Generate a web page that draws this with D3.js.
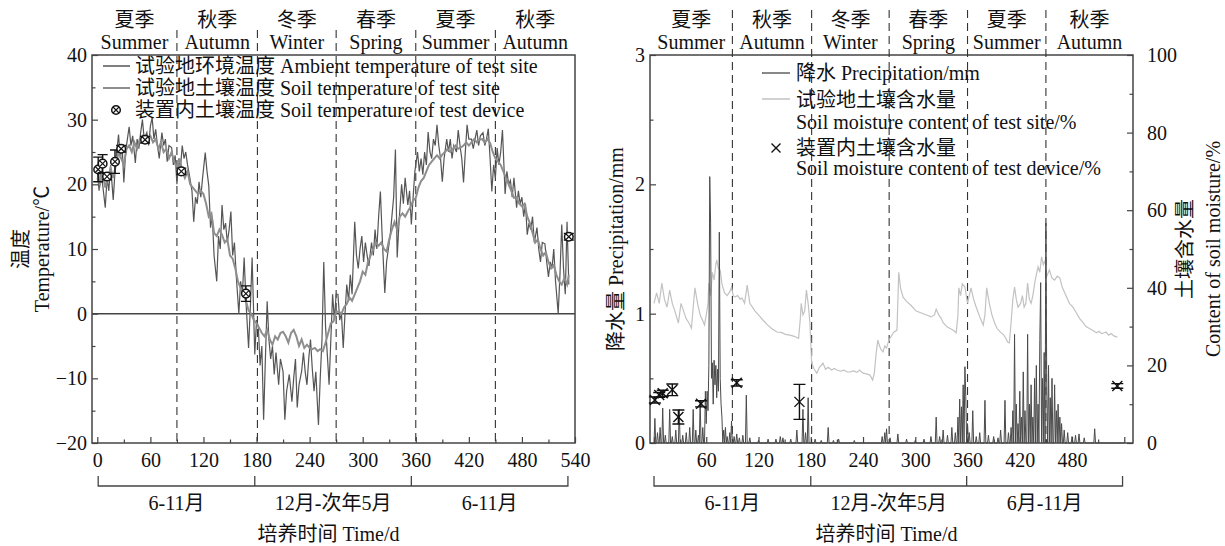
<!DOCTYPE html>
<html>
<head>
<meta charset="utf-8">
<script src="https://cdn.jsdelivr.net/npm/d3@7"></script>
<style>
    body { margin: 0; background: #fff; }
    svg { font-family: "Liberation Serif", "Times New Roman", "Noto Sans CJK SC", serif; font-size: 20px; }
    svg text { fill: #111; }
</style>
</head>
<body>
<script>
// ---- left panel: temperature ----
var ambientDays = [0, 2, 4, 6, 9, 11, 13, 15, 18, 20, 22, 24, 26, 28, 30, 32, 34, 36, 38, 40, 43, 45, 47, 49, 51, 53, 56, 58, 60, 62, 64, 66, 68, 70, 73, 75, 77, 79, 81, 84, 86, 88, 90, 92, 94, 96, 98, 100, 102, 104, 107, 109, 111, 113, 115, 117, 119, 122, 124, 126, 128, 130, 132, 135, 137, 139, 141, 143, 145, 147, 149, 151, 153, 155, 157, 160, 162, 164, 166, 168, 171, 173, 175, 178, 180, 182, 184, 186, 188, 190, 192, 194, 196, 198, 200, 202, 205, 207, 210, 212, 214, 217, 220, 222, 224, 226, 228, 231, 233, 235, 237, 239, 241, 243, 245, 247, 250, 252, 254, 256, 258, 260, 262, 264, 266, 268, 270, 272, 274, 276, 278, 280, 282, 284, 286, 288, 291, 293, 295, 297, 299, 301, 303, 305, 307, 310, 312, 314, 316, 318, 320, 322, 325, 327, 329, 331, 333, 335, 337, 339, 341, 344, 346, 348, 351, 353, 355, 357, 359, 362, 364, 366, 368, 370, 372, 374, 376, 378, 380, 382, 384, 386, 388, 390, 392, 395, 397, 399, 401, 403, 406, 408, 410, 412, 414, 416, 418, 420, 423, 425, 427, 429, 431, 433, 436, 438, 440, 442, 444, 446, 448, 450, 452, 454, 456, 458, 461, 463, 465, 467, 469, 471, 474, 476, 478, 480, 482, 484, 486, 488, 490, 492, 494, 497, 499, 501, 503, 506, 508, 510, 512, 514, 516, 518, 521, 523, 525, 527, 529, 531, 533];
var ambientTemp = [22, 19, 23, 20, 16.4, 21, 19, 23, 17.6, 22, 25, 27.7, 24, 26, 20.3, 25, 27, 28.9, 26, 27.5, 23.3, 27, 25.5, 28, 30, 27, 28, 26, 29, 30.3, 27, 28.5, 26, 24, 28, 26, 27, 23.5, 26, 25.7, 23, 24.5, 20, 24, 22.5, 26, 24, 25, 23, 21.5, 19, 14.2, 18, 17, 20.4, 18, 21, 24.9, 22, 19.8, 13.3, 15, 9, 5, 12, 10, 16.8, 13, 14, 11, 13, 15.8, 9, 11, 6, 0, 5, 3, 8.7, 2, -5.3, 1, 8.7, -6.3, -1, -2, -8, -5, -16.4, -7, 1.9, -4, -7, -5, -9.4, -6, -11, -7, -9, -16.4, -12, -9.4, -13.6, -10, -7, -14.5, -11, -8.9, -6, -9, -11, -7, -4, -8.5, -12, -9, -17.2, -10, -4, 8, -2, -6.3, -11, -4, 3, -1, 3, 3, -1, 0, -5.3, 0, 4.5, 2, 6, 3, 14.2, 9, 7, 10, 12, 8, 11, 9, 7.4, 11, 9, 13, 10, 15, 18.9, 12, 3.2, 8, 10, 12, 15, 18, 25.4, 8.7, 14, 20, 17, 21, 16.8, 19, 13.8, 18, 22, 25, 22, 24, 21.5, 25, 23, 28.1, 25, 24, 27, 26, 29.2, 26, 24, 20.4, 24, 27, 25, 27, 24, 26, 25, 28.4, 26, 24, 20.3, 25, 29.2, 27, 27, 25.5, 27, 28.4, 26, 27.5, 28, 26, 27, 28.6, 24, 18.9, 23, 21, 25.6, 23, 25, 28.4, 18.5, 22, 20, 20.6, 18, 21, 16.4, 19, 17, 18, 15, 17, 12.2, 14, 13, 15, 11, 13.3, 10, 8, 11, 10.8, 8, 5.7, 8, 7, 10, 5, 0, 6, 13.8, 7, 3, 14.2, 4.5];

var soilDays = [0, 3, 6, 9, 12, 15, 18, 21, 24, 27, 30, 33, 36, 39, 42, 45, 48, 51, 54, 57, 60, 63, 66, 69, 72, 75, 78, 81, 84, 87, 90, 93, 96, 99, 102, 105, 108, 111, 114, 117, 120, 123, 126, 129, 132, 135, 138, 141, 144, 147, 150, 153, 156, 159, 162, 165, 168, 171, 174, 177, 180, 183, 186, 189, 192, 195, 198, 201, 204, 207, 210, 213, 216, 219, 222, 225, 228, 231, 234, 237, 240, 243, 246, 249, 252, 255, 258, 261, 264, 267, 270, 273, 276, 279, 282, 285, 288, 291, 294, 297, 300, 303, 306, 309, 312, 315, 318, 321, 324, 327, 330, 333, 336, 339, 342, 345, 348, 351, 354, 357, 360, 363, 366, 369, 372, 375, 378, 381, 384, 387, 390, 393, 396, 399, 402, 405, 408, 411, 414, 417, 420, 423, 426, 429, 432, 435, 438, 441, 444, 447, 450, 453, 456, 459, 462, 465, 468, 471, 474, 477, 480, 483, 486, 489, 492, 495, 498, 501, 504, 507, 510, 513, 516, 519, 522, 525, 528, 531, 533];
var soilTemp = [21, 20, 22, 19.5, 21, 22.5, 21, 23, 25, 24, 23, 25.5, 26, 25, 26.5, 25.5, 27, 27.5, 26.5, 27, 27.5, 26.5, 27, 25.5, 26.5, 25, 25.5, 24, 25, 23.5, 22.5, 24, 22, 21, 22, 20, 19.5, 19, 18.5, 19, 18.5, 17, 15, 15.5, 12.5, 12, 13, 12.2, 11, 11.5, 9, 8.5, 7, 5, 4, 3, 2, 0.5, 0, -1, -1.5, -2.2, -3, -3.5, -2.5, -4, -4.8, -3.5, -4, -3, -2.8, -3.5, -4.5, -3, -2.5, -3.5, -5, -4, -5.3, -4.8, -5.3, -5.5, -5.3, -5.8, -5.5, -5.8, -4.5, -3, -1.5, -1.2, 0.3, 0.3, 0, 1, 1.5, 2.5, 2, 3, 4, 5, 6.5, 6, 8, 9, 10, 11, 10.5, 11, 10, 9.6, 11.5, 13, 14.2, 13, 15, 15.5, 15, 15.8, 16.5, 17.5, 17.9, 19.5, 20.5, 21, 22, 23, 23.5, 24, 24.5, 24, 24.6, 25, 25.5, 25, 25.5, 26, 25.5, 25.7, 26, 26.5, 26, 26.5, 27, 26.5, 26.9, 27, 26.5, 27, 26.4, 25, 24, 23.5, 23, 22, 21, 20, 19, 17.9, 18, 17, 16.6, 17, 15, 14, 12.5, 11, 11.5, 10, 9, 9.5, 8, 7, 7.5, 6, 5, 4.5, 5.5, 4.5, 6];

var deviceTempDays = [1, 6, 11, 20, 27, 54, 95, 168, 533];
var deviceTemp = [22.3, 23.2, 21.2, 23.5, 25.5, 26.9, 22.0, 3.1, 11.9];
var deviceTempErr = [1.9, 1.4, 0.5, 1.8, 0.5, 0.5, 0.5, 1.2, 0.5];

// ---- right panel: precipitation and soil moisture ----
var rainDays = [1, 4, 7, 10, 13, 18, 21, 25, 29, 33, 37, 41, 45, 48, 51, 53, 56, 59, 60, 61, 62, 63, 64, 65, 66, 67, 68, 69, 70, 71, 72, 73, 74, 75, 76, 77, 78, 80, 82, 84, 87, 89, 92, 95, 98, 102, 106, 110, 120, 131, 140, 145, 148, 157, 164, 171, 174, 177, 185, 192, 200, 206, 212, 230, 262, 265, 267, 271, 280, 290, 300, 310, 318, 324, 328, 332, 337, 342, 346, 349, 351, 353, 355, 357, 358, 360, 362, 366, 370, 374, 380, 384, 390, 395, 398, 403, 407, 410, 412, 414, 416, 418, 420, 422, 424, 426, 429, 431, 433, 435, 437, 439, 441, 443, 444, 446, 448, 450, 451, 453, 455, 457, 460, 462, 464, 466, 468, 471, 475, 480, 484, 488, 494, 506];
var rainVals = [0.19, 0.08, 0.12, 0.27, 0.06, 0.26, 0.05, 0.1, 0.26, 0.06, 0.08, 0.12, 0.26, 0.1, 0.06, 0.33, 0.12, 0.4, 0.15, 0.4, 0.25, 0.6, 2.06, 1.7, 0.5, 0.62, 0.3, 0.64, 0.45, 0.6, 0.35, 0.57, 0.4, 1.63, 0.5, 0.3, 0.2, 0.1, 0.12, 0.05, 0.08, 0.17, 0.05, 0.07, 0.04, 0.06, 0.37, 0.04, 0.02, 0.03, 0.03, 0.05, 0.04, 0.03, 0.1, 0.26, 0.08, 0.35, 0.03, 0.02, 0.12, 0.02, 0.03, 0.02, 0.05, 0.08, 0.11, 0.04, 0.07, 0.03, 0.02, 0.03, 0.05, 0.2, 0.05, 0.1, 0.06, 0.12, 0.08, 0.2, 0.34, 0.28, 0.45, 0.59, 0.36, 0.15, 0.08, 0.25, 0.05, 0.08, 0.33, 0.06, 0.05, 0.04, 0.1, 0.33, 0.08, 0.12, 0.25, 0.84, 0.3, 0.15, 0.4, 0.2, 0.55, 0.25, 0.84, 0.3, 0.45, 0.2, 0.5, 0.6, 0.3, 0.8, 1.24, 0.5, 0.7, 1.7, 0.4, 0.6, 0.35, 0.5, 0.45, 0.25, 0.3, 0.2, 0.15, 0.1, 0.08, 0.05, 0.06, 0.07, 0.04, 0.11];

var moistDays = [0, 3, 6, 9, 12, 15, 18, 21, 24, 28, 31, 34, 37, 40, 43, 45, 47, 50, 53, 56, 58, 60, 62, 63, 65, 67, 69, 71, 72, 74, 76, 78, 81, 84, 87, 89, 91, 93, 96, 99, 101, 104, 107, 110, 113, 116, 120, 125, 130, 135, 141, 146, 151, 156, 161, 166, 168, 169, 171, 173, 175, 177, 179, 181, 184, 187, 190, 194, 197, 200, 204, 207, 210, 214, 218, 222, 225, 229, 233, 236, 240, 244, 248, 251, 253, 255, 257, 259, 261, 263, 265, 267, 269, 271, 275, 279, 281, 283, 286, 290, 295, 301, 307, 313, 318, 322, 324, 327, 330, 332, 336, 340, 344, 347, 349, 350, 352, 354, 357, 360, 362, 364, 367, 370, 374, 378, 380, 382, 385, 388, 391, 394, 398, 401, 404, 406, 408, 410, 412, 414, 416, 418, 421, 423, 425, 427, 429, 431, 433, 435, 437, 439, 441, 443, 445, 447, 449, 451, 454, 457, 460, 463, 466, 469, 472, 475, 477, 481, 485, 489, 492, 496, 500, 504, 508, 511, 514, 517, 519, 522, 525, 528, 532];
var moistVals = [36, 38.7, 36, 41.2, 37, 35, 39.4, 36, 34, 30.9, 36, 34, 32, 31, 29.6, 35, 40, 36, 33, 31.5, 30.4, 33, 36, 41.2, 38, 44, 42, 46, 47.2, 45, 44.6, 41, 38.7, 38, 39, 40.2, 38, 37.6, 38, 37, 37.4, 36, 40.7, 36, 35, 34, 33, 31.7, 30.5, 29.5, 28.6, 28.5, 28, 27.8, 27.5, 27, 32, 36, 33, 34, 39.4, 36, 31, 20.6, 19, 18, 19.5, 20.6, 19, 19.5, 18.8, 19.2, 18.8, 18.5, 18.8, 18.3, 18.3, 18.6, 18.2, 18.8, 18, 17.8, 17.5, 16.2, 18, 23, 26.5, 25, 24, 23.5, 25, 24.5, 26, 27, 28.5, 29.1, 44, 40, 37.6, 36.5, 35.5, 34, 33.5, 33, 32.5, 33, 34.5, 33, 32, 31, 30, 29.5, 29, 28.4, 33, 40, 38, 41, 40.2, 36, 38, 40, 37, 35, 32.5, 30.4, 33, 40, 36, 33, 31, 29.5, 28.5, 28, 27, 26, 25.8, 31, 37, 40.2, 37, 35, 36, 38, 35, 36, 41.2, 37, 36, 38, 41, 43.4, 45.4, 44, 48, 46, 47, 43, 44.6, 42.5, 42, 43, 42.5, 40, 38.5, 37, 36, 35, 33.5, 32, 31.2, 30, 29.5, 29, 28.4, 28.8, 28.2, 28.4, 28.6, 27.8, 28.2, 27.6, 27.3];

var deviceMoistDays = [1, 6, 10, 21, 28, 54, 95, 167, 532];
var deviceMoist = [11.1, 12.4, 12.8, 13.7, 6.7, 10.1, 15.5, 10.6, 14.7];
var deviceMoistErr = [0.8, 0.6, 0.8, 1.5, 1.8, 0.8, 0.8, 4.5, 0.6];

// ---- shared labels ----
var seasonCn = ['夏季', '秋季', '冬季', '春季', '夏季', '秋季'];
var seasonEn = ['Summer', 'Autumn', 'Winter', 'Spring', 'Summer', 'Autumn'];
var seasonBounds = [90, 181, 270, 360, 450];
var leftBracketDays = [1, 178, 355, 532];
var leftBracketLabels = ['6-11月', '12月-次年5月', '6-11月'];
var rightBracketDays = [0, 180, 359, 538];
var rightBracketLabels = ['6-11月', '12月-次年5月', '6月-11月'];

var dayTicks = d3.range(0, 541, 60);
var dayMinorTicks = d3.range(30, 540, 60);
var tempTicks = [-20, -10, 0, 10, 20, 30, 40];
var tempMinorTicks = [-15, -5, 5, 15, 25, 35];
var rainTicks = [0, 1, 2, 3];
var rainMinorTicks = [0.5, 1.5, 2.5];
var moistTicks = [0, 20, 40, 60, 80, 100];
var moistMinorTicks = [10, 30, 50, 70, 90];

var width = 1225,
    height = 546,
    plotTop = 55,
    plotBottom = 443,
    ink = '#444';

var svg = d3.select('body')
    .append('svg')
    .attr('width', width)
    .attr('height', height);

var xL = d3.scaleLinear().domain([-6, 540]).range([92, 575]);
var yL = d3.scaleLinear().domain([-20, 40]).range([plotBottom, plotTop]);
var xR = d3.scaleLinear().domain([-4.6, 550]).range([650, 1133]);
var yP = d3.scaleLinear().domain([0, 3]).range([plotBottom, plotTop]);
var yM = d3.scaleLinear().domain([0, 100]).range([plotBottom, plotTop]);
var intFormat = d3.format('d');

//draw an axis without its domain line, letting the page font apply
var addAxis = function (axis, tx, ty) {
    var g = svg.append('g')
        .attr('transform', 'translate(' + tx + ',' + ty + ')')
        .call(axis)
        .attr('font-family', null)
        .attr('font-size', null);
    g.select('.domain').remove();
    g.selectAll('line').attr('stroke', ink).attr('stroke-width', 1.2);
    return g;
}

//ticks, minor ticks, box, season dashes and labels, brackets
var drawFrame = function (x, yTicks, yMinor, yScale, bracketDays, bracketLabels, labelDays, dashTop) {
    var x0 = x.range()[0], x1 = x.range()[1];
    addAxis(d3.axisBottom(x).tickValues(dayTicks).tickSize(-6).tickPadding(10)
        .tickFormat(function (d) { return labelDays.indexOf(d) >= 0 ? d : ''; }), 0, plotBottom);
    addAxis(d3.axisBottom(x).tickValues(dayMinorTicks).tickSize(-3.5).tickFormat(''), 0, plotBottom);
    addAxis(d3.axisLeft(yScale).tickValues(yTicks).tickSize(-6).tickPadding(5).tickFormat(intFormat), x0, 0);
    addAxis(d3.axisLeft(yScale).tickValues(yMinor).tickSize(-3.5).tickFormat(''), x0, 0);

    svg.append('rect')
        .attr('x', x0).attr('y', plotTop)
        .attr('width', x1 - x0).attr('height', plotBottom - plotTop)
        .style('fill', 'none').style('stroke', ink).style('stroke-width', 1.5);

    svg.append('g').selectAll('line')
        .data(seasonBounds).enter().append('line')
        .attr('x1', function (d) { return x(d); })
        .attr('x2', function (d) { return x(d); })
        .attr('y1', dashTop).attr('y2', plotBottom)
        .style('stroke', '#333').style('stroke-width', 1.1).style('stroke-dasharray', '8,5');

    var edges = [x0].concat(seasonBounds.map(x)).concat([x1]);
    var centers = seasonCn.map(function (d, i) { return (edges[i] + edges[i + 1]) / 2; });
    svg.append('g').selectAll('text')
        .data(seasonCn).enter().append('text')
        .attr('x', function (d, i) { return centers[i]; })
        .attr('y', 27).attr('text-anchor', 'middle').text(function (d) { return d; });
    svg.append('g').selectAll('text')
        .data(seasonEn).enter().append('text')
        .attr('x', function (d, i) { return centers[i]; })
        .attr('y', 49).attr('text-anchor', 'middle').text(function (d) { return d; });

    var bx = bracketDays.map(x);
    var p = 'M' + bx[0] + ',476V486H' + bx[3] + 'V476';
    p += 'M' + bx[1] + ',486V476M' + bx[2] + ',486V476';
    svg.append('path').attr('d', p)
        .style('fill', 'none').style('stroke', ink).style('stroke-width', 1.3);
    svg.append('g').selectAll('text')
        .data(bracketLabels).enter().append('text')
        .attr('x', function (d, i) { return (bx[i] + bx[i + 1]) / 2; })
        .attr('y', 510).attr('text-anchor', 'middle').text(function (d) { return d; });

    svg.append('text')
        .attr('x', (x0 + x1) / 2 - 5).attr('y', 541)
        .attr('text-anchor', 'middle').text('培养时间 Time/d');
}

//rotated axis title, reading upwards
var vText = function (x, y, s) {
    svg.append('text')
        .attr('transform', 'translate(' + x + ',' + y + ') rotate(-90)')
        .attr('text-anchor', 'middle').text(s);
}

// ================= left panel =================
drawFrame(xL, tempTicks, tempMinorTicks, yL, leftBracketDays, leftBracketLabels, dayTicks, 30);

//zero line
svg.append('line')
    .attr('x1', xL.range()[0]).attr('x2', xL.range()[1])
    .attr('y1', yL(0)).attr('y2', yL(0))
    .style('stroke', ink).style('stroke-width', 1.5);

var ambientColor = '#555', soilColor = '#8e8e8e';

svg.append('path')
    .datum(d3.zip(ambientDays, ambientTemp))
    .attr('d', d3.line().x(function (d) { return xL(d[0]); }).y(function (d) { return yL(d[1]); }))
    .style('fill', 'none').style('stroke', ambientColor).style('stroke-width', 1.2);

svg.append('path')
    .datum(d3.zip(soilDays, soilTemp))
    .attr('d', d3.line().x(function (d) { return xL(d[0]); }).y(function (d) { return yL(d[1]); }))
    .style('fill', 'none').style('stroke', soilColor).style('stroke-width', 2);

//circle-cross marker
var circleCross = function (g, cx, cy) {
    g.append('circle').attr('cx', cx).attr('cy', cy).attr('r', 4.3)
        .style('fill', '#fff').style('stroke', '#111').style('stroke-width', 1.5);
    g.append('path')
        .attr('d', 'M' + (cx - 3) + ',' + (cy - 3) + 'L' + (cx + 3) + ',' + (cy + 3) +
            'M' + (cx - 3) + ',' + (cy + 3) + 'L' + (cx + 3) + ',' + (cy - 3))
        .style('stroke', '#111').style('stroke-width', 1.2);
}

//error bar with caps
var errorBar = function (g, cx, yHi, yLo, cap) {
    g.append('path')
        .attr('d', 'M' + cx + ',' + yHi + 'V' + yLo +
            'M' + (cx - cap) + ',' + yHi + 'H' + (cx + cap) +
            'M' + (cx - cap) + ',' + yLo + 'H' + (cx + cap))
        .style('fill', 'none').style('stroke', '#111').style('stroke-width', 1.4);
}

var devL = svg.append('g');
deviceTempDays.forEach(function (d, i) {
    errorBar(devL, xL(d), yL(deviceTemp[i] + deviceTempErr[i]), yL(deviceTemp[i] - deviceTempErr[i]), 5);
    circleCross(devL, xL(d), yL(deviceTemp[i]));
});

//left legend
var legL = svg.append('g');
legL.append('line').attr('x1', 103).attr('x2', 130).attr('y1', 66).attr('y2', 66)
    .style('stroke', ambientColor).style('stroke-width', 1.5);
legL.append('line').attr('x1', 103).attr('x2', 130).attr('y1', 88).attr('y2', 88)
    .style('stroke', soilColor).style('stroke-width', 2);
circleCross(legL, 116, 110);
legL.append('text').attr('x', 135).attr('y', 73).text('试验地环境温度 Ambient temperature of test site');
legL.append('text').attr('x', 135).attr('y', 95).text('试验地土壤温度 Soil temperature of test site');
legL.append('text').attr('x', 135).attr('y', 117).text('装置内土壤温度 Soil temperature of test device');

vText(28, 249, '温度');
vText(49, 249, 'Temperature/℃');

// ================= right panel =================
drawFrame(xR, rainTicks, rainMinorTicks, yP, rightBracketDays, rightBracketLabels, d3.range(60, 481, 60), 10);
addAxis(d3.axisRight(yM).tickValues(moistTicks).tickSize(-6).tickPadding(14).tickFormat(intFormat), xR.range()[1], 0);
addAxis(d3.axisRight(yM).tickValues(moistMinorTicks).tickSize(-3.5).tickFormat(''), xR.range()[1], 0);

var moistColor = '#c2c2c2', rainColor = '#4a4a4a';

svg.append('path')
    .datum(d3.zip(moistDays, moistVals))
    .attr('d', d3.line().x(function (d) { return xR(d[0]); }).y(function (d) { return yM(d[1]); }))
    .style('fill', 'none').style('stroke', moistColor).style('stroke-width', 1.2);

//daily precipitation: days without an entry are dry
var rainByDay = d3.range(0, 541).map(function (d) {
    var k = rainDays.indexOf(d);
    return [d, k >= 0 ? rainVals[k] : 0];
});
svg.append('path')
    .datum(rainByDay)
    .attr('d', d3.line().x(function (d) { return xR(d[0]); }).y(function (d) { return yP(d[1]); }))
    .style('fill', 'none').style('stroke', rainColor).style('stroke-width', 1);

//cross marker
var cross = function (g, cx, cy, s) {
    g.append('path')
        .attr('d', 'M' + (cx - s) + ',' + (cy - s) + 'L' + (cx + s) + ',' + (cy + s) +
            'M' + (cx - s) + ',' + (cy + s) + 'L' + (cx + s) + ',' + (cy - s))
        .style('stroke', '#111').style('stroke-width', 1.4);
}

var devR = svg.append('g');
deviceMoistDays.forEach(function (d, i) {
    errorBar(devR, xR(d), yM(deviceMoist[i] + deviceMoistErr[i]), yM(deviceMoist[i] - deviceMoistErr[i]), 6);
    cross(devR, xR(d), yM(deviceMoist[i]), 5);
});

//right legend
var legR = svg.append('g');
legR.append('line').attr('x1', 762).attr('x2', 790).attr('y1', 73).attr('y2', 73)
    .style('stroke', rainColor).style('stroke-width', 1.3);
legR.append('line').attr('x1', 762).attr('x2', 790).attr('y1', 99).attr('y2', 99)
    .style('stroke', moistColor).style('stroke-width', 1.5);
cross(legR, 776, 148, 4.5);
legR.append('text').attr('x', 796).attr('y', 80).text('降水 Precipitation/mm');
legR.append('text').attr('x', 796).attr('y', 107).text('试验地土壤含水量');
legR.append('text').attr('x', 796).attr('y', 129).text('Soil moisture content of test site/%');
legR.append('text').attr('x', 796).attr('y', 155).text('装置内土壤含水量');
legR.append('text').attr('x', 796).attr('y', 175).text('Soil moisture content of test device/%');

vText(623, 249, '降水量 Precipitation/mm');
vText(1192, 249, '土壤含水量');
vText(1220, 249, 'Content of soil moisture/%');
</script>
</body>
</html>
